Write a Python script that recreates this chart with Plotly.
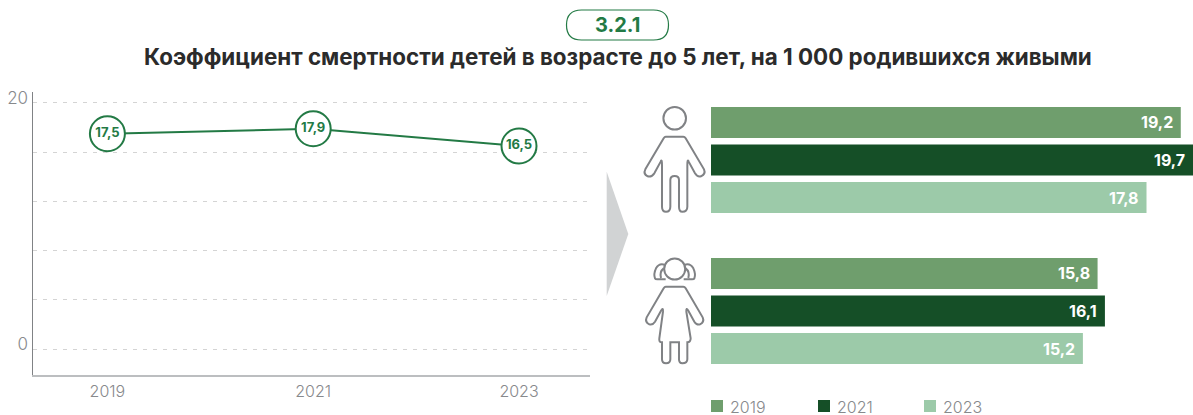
import re
import plotly.graph_objects as go

W, H = 1193, 415
TITLE = "Коэффициент смертности детей в возрасте до 5 лет, на 1 000 родившихся живыми"
BADGE = "3.2.1"

total_years = [2019, 2021, 2023]
total_values = [17.5, 17.9, 16.5]

sexes = ["Мальчики", "Девочки"]
series_years = ["2019", "2021", "2023"]
values_2019 = [19.2, 15.8]
values_2021 = [19.7, 16.1]
values_2023 = [17.8, 15.2]

GREEN = "#237a45"
C2019, C2021, C2023 = "#6f9e6d", "#154f27", "#9ccaa9"
GREY = "#87898c"
ICON = "#808285"
FONT = "Inter"


def comma(v):
    return f"{v:.1f}".replace(".", ",")


def px(x):
    return x / W


def py(y):
    return 1 - y / H


def icon_path(d, ox=600, oy=90, s=3):
    def conv(m):
        x = (float(m.group(1)) / s + ox) / W
        y = 1 - (float(m.group(2)) / s + oy) / H
        return f"{x:.5f},{y:.5f}"
    return re.sub(r"(-?[\d.]+),(-?[\d.]+)", conv, d)


BOY = ("M197,140 L250,140 Q254,140 257,145 L312,238 Q318,252 303,259 Q292,262 285,250 "
       "L266,215 Q262,205 262,225 L262,350 Q262,365 247,365 Q237,365 237,350 L237,270 "
       "Q237,258 224,258 Q211,258 211,270 L211,350 Q211,365 198,365 Q186,365 186,350 "
       "L186,225 Q186,205 182,215 L163,250 Q155,262 143,259 Q129,252 136,238 L191,145 Q194,140 197,140 Z")
GIRL = ("M197,590 L250,590 Q254,590 257,595 L308,682 Q314,696 300,703 Q290,706 283,695 "
        "L265,662 Q258,650 259,665 L272,745 Q272,757 262,757 L262,808 Q262,820 247,820 Q237,820 237,808 "
        "L237,757 L211,757 L211,808 Q211,820 198,820 Q186,820 186,808 L186,757 Q176,757 178,745 "
        "L189,665 Q190,650 183,662 L165,695 Q158,706 148,703 Q134,696 140,682 L191,595 Q194,590 197,590 Z")
TAIL_L = ("M195,525 Q178,518 168,535 Q160,552 165,565 Q166,568 172,568 L197,568 "
          "M183,564 Q178,545 191,535")
TAIL_R = ("M253,525 Q270,518 280,535 Q288,552 283,565 Q282,568 276,568 L251,568 "
          "M265,564 Q270,545 257,535")


def circle(cx, cy, r):
    return dict(type="circle", xref="paper", yref="paper",
                x0=px(cx - r), x1=px(cx + r), y0=py(cy + r), y1=py(cy - r),
                line=dict(color=ICON, width=2), fillcolor="rgba(0,0,0,0)")


def path(d, **kw):
    return dict(type="path", xref="paper", yref="paper", path=d,
                line=dict(color=ICON, width=2), **kw)


fig = go.Figure()

fig.add_trace(go.Scatter(
    x=total_years, y=total_values, mode="lines+markers+text",
    text=[comma(v) for v in total_values], textposition="middle center",
    textfont=dict(family=FONT, size=13, color=GREEN, weight=700),
    line=dict(color=GREEN, width=2),
    marker=dict(size=35, color="white", line=dict(color=GREEN, width=2)),
    cliponaxis=False, showlegend=False, hoverinfo="skip",
    xaxis="x", yaxis="y"))

for name, vals, col in zip(series_years, [values_2019, values_2021, values_2023],
                           [C2019, C2021, C2023]):
    fig.add_trace(go.Bar(
        name=name, y=sexes, x=vals, orientation="h", marker=dict(color=col, line=dict(width=0)),
        showlegend=False, xaxis="x2", yaxis="y2", hoverinfo="skip"))

annotations = []
# value labels on the bars, anchored in data coordinates
for i, vals in enumerate([values_2019, values_2021, values_2023]):
    for s, v in zip(sexes, vals):
        annotations.append(dict(
            x=v, y=s, xref="x2", yref="y2", text=comma(v), showarrow=False,
            xanchor="right", yanchor="middle", xshift=-6, yshift=(1 - i) * 37.7,
            font=dict(family=FONT, size=16, color="white", weight=700)))

annotations.append(dict(x=px(617), y=py(25), xref="paper", yref="paper", text=BADGE,
                        showarrow=False, yanchor="middle",
                        font=dict(family=FONT, size=20, color=GREEN, weight=700)))
annotations.append(dict(x=px(617.5), y=py(56.5), xref="paper", yref="paper", text=TITLE,
                        showarrow=False, yanchor="middle", xanchor="center",
                        font=dict(family=FONT, size=22.4, color="#2b2b2b", weight=700)))

shapes = [
    dict(type="path", xref="paper", yref="paper", line=dict(color=GREEN, width=1.2),
         path=icon_path("M581.5,10 L653.5,10 Q668.5,10 668.5,25 Q668.5,40 653.5,40 L581.5,40 "
                        "Q566.5,40 566.5,25 Q566.5,10 581.5,10 Z", 0, 0, 1)),
    dict(type="path", xref="paper", yref="paper", line=dict(width=0), fillcolor="#d1d3d4",
         path=icon_path("M606.7,171.7 L628.3,234 L606.7,296 Z", 0, 0, 1)),
    circle(674.7, 118.3, 11.3),
    path(icon_path(BOY)),
    circle(674.7, 269, 10.5),
    path(icon_path(GIRL)),
    path(icon_path(TAIL_L)),
    path(icon_path(TAIL_R)),
]

for label, col, x0 in zip(series_years, [C2019, C2021, C2023], [711, 818, 924]):
    shapes.append(dict(type="rect", xref="paper", yref="paper", x0=px(x0), x1=px(x0 + 12),
                       y0=py(412), y1=py(400), line=dict(width=0), fillcolor=col))
    annotations.append(dict(x=px(x0 + 18), y=py(406.5), xref="paper", yref="paper", text=label,
                            showarrow=False, xanchor="left", yanchor="middle", height=15,
                            borderpad=0,
                            font=dict(family=FONT, size=16, color=GREY, weight=300)))

fig.update_layout(
    width=W, height=H, margin=dict(l=0, r=0, t=0, b=0, autoexpand=False),
    paper_bgcolor="white", plot_bgcolor="white",
    font=dict(family=FONT, color=GREY),
    barmode="group", bargap=0.255, bargroupgap=0.173,
    xaxis=dict(domain=[px(32.5), px(590)], range=[2018.272, 2023.69], tickvals=total_years,
               ticktext=[str(y) for y in total_years], showgrid=False, zeroline=False,
               showline=True, linecolor="#bcbec0", linewidth=2, ticks="", ticklabelstandoff=1,
               tickfont=dict(family=FONT, size=16, color=GREY, weight=300), anchor="y"),
    yaxis=dict(domain=[1 - 374.5 / H, 1 - 92 / H], range=[-2.07, 20.89],
               tickvals=[0, 4, 8, 12, 16, 20], ticktext=["0", "", "", "", "", "20"],
               showgrid=True, gridcolor="#d4d4d4", griddash="4px,6px", gridwidth=1, zeroline=False,
               showline=True, linecolor="#808285", linewidth=1, ticks="", ticklabelshift=-5,
               tickfont=dict(family=FONT, size=17, color=GREY, weight=300), anchor="x"),
    xaxis2=dict(domain=[px(711), 1], range=[0, 19.7], visible=False, anchor="y2"),
    yaxis2=dict(domain=[1 - 386.5 / H, 1 - 84.5 / H], autorange="reversed",
                categoryorder="array", categoryarray=sexes, visible=False, anchor="x2"),
    annotations=annotations, shapes=shapes,
)

fig.write_html("out.html", config=dict(displayModeBar=False),
               post_script="document.body.style.margin='0';")
